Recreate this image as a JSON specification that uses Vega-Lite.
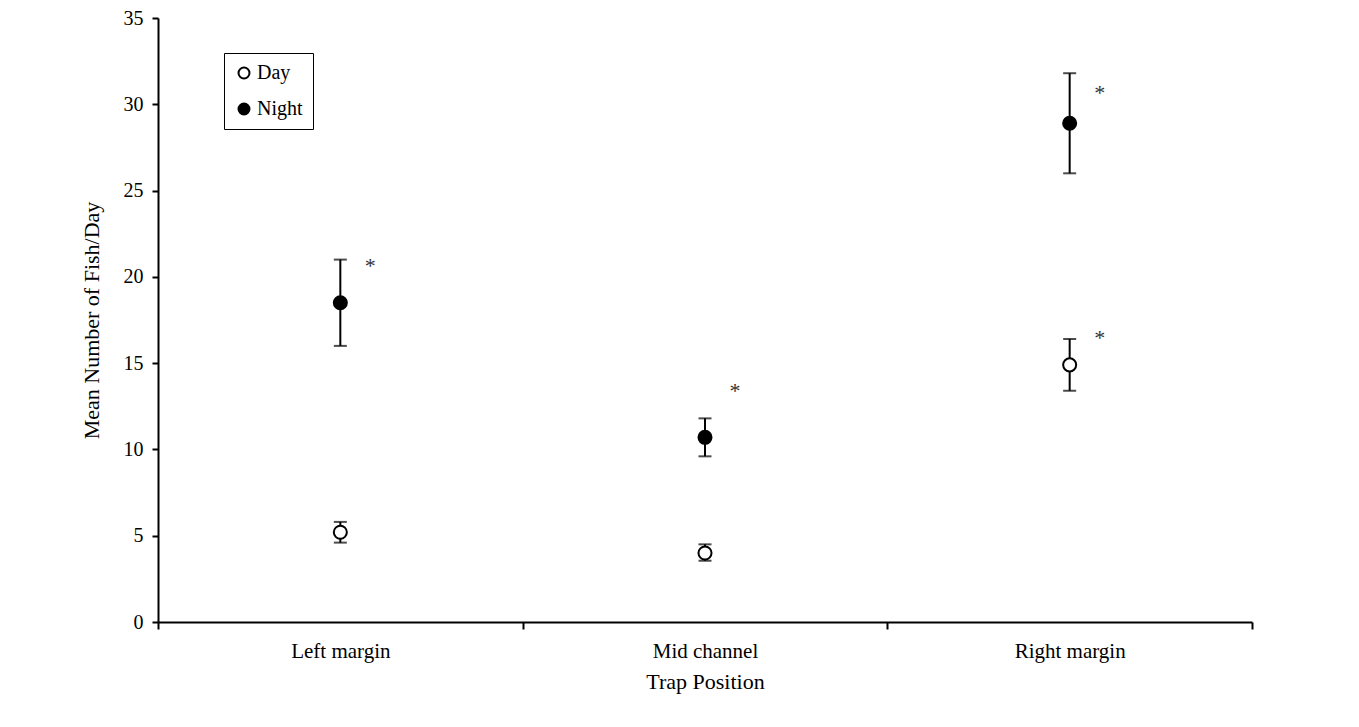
{
  "$schema": "https://vega.github.io/schema/vega-lite/v6.json",
  "width": 1094,
  "height": 604,
  "autosize": "none",
  "padding": {"left": 158, "top": 18, "right": 107, "bottom": 105},
  "background": "white",
  "config": {
    "font": "Liberation Serif",
    "view": {"stroke": null},
    "axis": {
      "labelFont": "Liberation Serif",
      "titleFont": "Liberation Serif",
      "labelFontSize": 20,
      "titleFontSize": 22,
      "labelColor": "black",
      "titleColor": "black",
      "titleFontWeight": "normal",
      "domainColor": "black",
      "tickColor": "black",
      "domainWidth": 2,
      "tickWidth": 2,
      "grid": false
    }
  },
  "data": {
    "values": [
      {"position": "Left margin", "period": "Day", "mean": 5.2, "lo": 4.6, "hi": 5.8, "star": null},
      {"position": "Left margin", "period": "Night", "mean": 18.5, "lo": 16.0, "hi": 21.0, "star": 20.9},
      {"position": "Mid channel", "period": "Day", "mean": 4.0, "lo": 3.55, "hi": 4.5, "star": null},
      {"position": "Mid channel", "period": "Night", "mean": 10.7, "lo": 9.6, "hi": 11.8, "star": 13.7},
      {"position": "Right margin", "period": "Day", "mean": 14.9, "lo": 13.4, "hi": 16.4, "star": 16.75},
      {"position": "Right margin", "period": "Night", "mean": 28.9, "lo": 26.0, "hi": 31.8, "star": 30.95}
    ]
  },
  "encoding": {
    "x": {
      "field": "position",
      "type": "nominal",
      "sort": ["Left margin", "Mid channel", "Right margin"],
      "scale": {"paddingInner": 0, "paddingOuter": 0},
      "axis": {
        "title": "Trap Position",
        "labelAngle": 0,
        "labelFontSize": 21,
        "tickBand": "extent",
        "tickSize": 7,
        "labelPadding": 11,
        "titlePadding": 10
      }
    }
  },
  "layer": [
    {
      "mark": {"type": "rule", "color": "black", "strokeWidth": 2},
      "encoding": {
        "y": {
          "field": "lo",
          "type": "quantitative",
          "scale": {"domain": [0, 35]},
          "axis": {
            "title": "Mean Number of Fish/Day",
            "values": [0, 5, 10, 15, 20, 25, 30, 35],
            "tickSize": 6,
            "labelPadding": 9,
            "titlePadding": 20
          }
        },
        "y2": {"field": "hi"}
      }
    },
    {
      "mark": {"type": "tick", "color": "black", "thickness": 2, "size": 13, "orient": "horizontal"},
      "encoding": {"y": {"field": "lo", "type": "quantitative"}}
    },
    {
      "mark": {"type": "tick", "color": "black", "thickness": 2, "size": 13, "orient": "horizontal"},
      "encoding": {"y": {"field": "hi", "type": "quantitative"}}
    },
    {
      "mark": {"type": "point", "shape": "circle", "filled": true, "stroke": "black", "strokeWidth": 2, "size": 170, "opacity": 1},
      "encoding": {
        "y": {"field": "mean", "type": "quantitative"},
        "fill": {
          "field": "period",
          "type": "nominal",
          "scale": {"domain": ["Day", "Night"], "range": ["white", "black"]},
          "legend": {
            "title": null,
            "orient": "none",
            "legendX": 66,
            "legendY": 35,
            "strokeColor": "black",
            "fillColor": "white",
            "padding": 10,
            "labelFont": "Liberation Serif",
            "labelFontSize": 20,
            "labelColor": "black",
            "symbolType": "circle",
            "symbolSize": 120,
            "symbolStrokeColor": "black",
            "symbolStrokeWidth": 2,
            "rowPadding": 16,
            "labelOffset": 3
          }
        }
      }
    },
    {
      "transform": [{"filter": "datum.star != null"}],
      "mark": {"type": "text", "text": "*", "dx": 30, "fontSize": 22, "font": "Liberation Serif", "color": "#333", "baseline": "middle", "dy": 5},
      "encoding": {"y": {"field": "star", "type": "quantitative"}}
    }
  ]
}
